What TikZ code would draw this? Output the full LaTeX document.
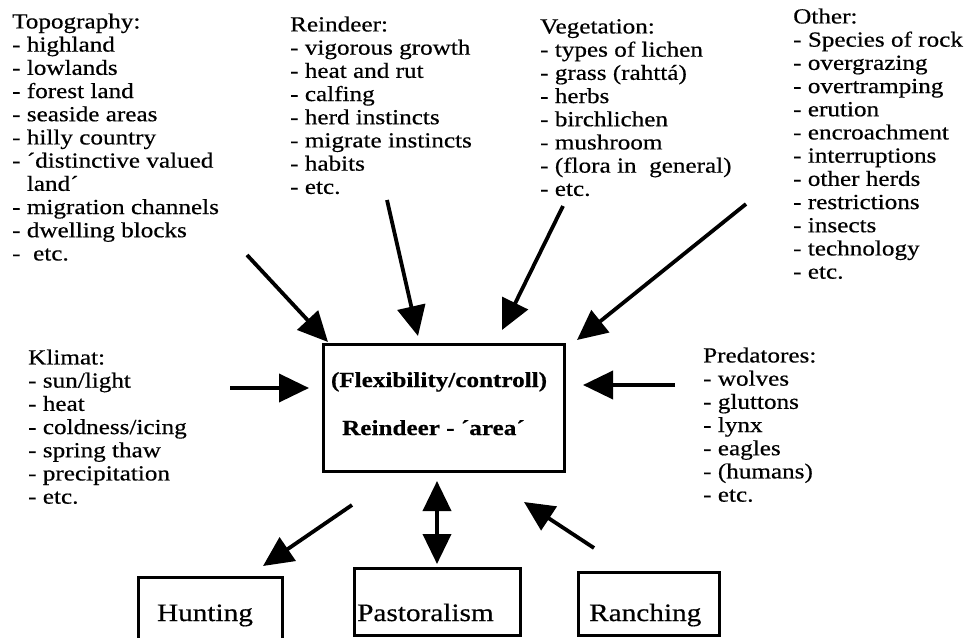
\documentclass[tikz,border=0pt]{standalone}
\usepackage{fontspec}
\setmainfont{Liberation Serif}[FakeStretch=1.17, FakeBold=0.5]
\usetikzlibrary{arrows.meta}
\begin{document}
\begin{tikzpicture}[x=1pt,y=-1pt,
  lst/.style={anchor=north west, inner sep=0pt, align=left, font=\fontsize{21.5}{23.2}\selectfont},
  boxframe/.style={draw, line width=2.6pt, inner sep=0pt, anchor=north west},
  boxtext/.style={inner sep=0pt, font=\fontsize{25}{27}\selectfont},
  centertext/.style={inner sep=0pt, font=\fontsize{21.5}{23.2}\selectfont\bfseries},
  tip/.tip={Triangle[length=30pt,width=28pt]},
  arr/.style={line width=3.8pt, -tip},
  darr/.style={line width=3.8pt, tip-tip},
]
\useasboundingbox (0,0) rectangle (968,637);

% text blocks
\node[lst] (topo) at (12,12) {\strut Topography:\\- highland\\- lowlands\\- forest land\\- seaside areas\\- hilly country\\- ´distinctive valued\\\phantom{- }land´\\- migration channels\\- dwelling blocks\\-\ \ etc.};
\node[lst] (rein) at (290,15) {\strut Reindeer:\\- vigorous growth\\- heat and rut\\- calfing\\- herd instincts\\- migrate instincts\\- habits\\- etc.};
\node[lst] (veg) at (540,17) {\strut Vegetation:\\- types of lichen\\- grass (rahttá)\\- herbs\\- birchlichen\\- mushroom\\- (flora in\ \ general)\\- etc.};
\node[lst] (other) at (793,7) {\strut Other:\\- Species of rock\\- overgrazing\\- overtramping\\- erution\\- encroachment\\- interruptions\\- other herds\\- restrictions\\- insects\\- technology\\- etc.};
\node[lst] (klim) at (28,348) {\strut Klimat:\\- sun/light\\- heat\\- coldness/icing\\- spring thaw\\- precipitation\\- etc.};
\node[lst] (pred) at (703,346) {\strut Predatores:\\- wolves\\- gluttons\\- lynx\\- eagles\\- (humans)\\- etc.};

% central box
\node[boxframe, minimum width=241, minimum height=127] (area) at (322,343) {};
\node[centertext, anchor=base] (flex) at (439,387) {(Flexibility/controll)};
\node[centertext, anchor=base west] (rarea) at (342,435) {Reindeer - ´area´};

% bottom boxes
\node[boxframe, minimum width=144, minimum height=66] (hunt) at (137,576) {};
\node[boxtext, anchor=base] (huntT) at (205,621) {Hunting};
\node[boxframe, minimum width=166, minimum height=67] (past) at (353,567) {};
\node[boxtext, anchor=base west] (pastT) at (357,621) {Pastoralism};
\node[boxframe, minimum width=141, minimum height=63] (ranch) at (577,571) {};
\node[boxtext, anchor=base west] (ranchT) at (589,621) {Ranching};

% arrow end points
\coordinate (a1s) at (247,255); \coordinate (a1e) at (328,342);
\coordinate (a2s) at (387,200); \coordinate (a2e) at (418,336);
\coordinate (a3s) at (563,206); \coordinate (a3e) at (502,330);
\coordinate (a4s) at (746,204); \coordinate (a4e) at (577,340);
\coordinate (a5s) at (230,388); \coordinate (a5e) at (309,388);
\coordinate (a6s) at (675,385); \coordinate (a6e) at (583,385);
\coordinate (a7s) at (352,505); \coordinate (a7e) at (263,566);
\coordinate (a8s) at (437,481); \coordinate (a8e) at (437,564);
\coordinate (a9s) at (594,548); \coordinate (a9e) at (524,502);

\draw[arr] (a1s) -- (a1e);
\draw[arr] (a2s) -- (a2e);
\draw[arr] (a3s) -- (a3e);
\draw[arr] (a4s) -- (a4e);
\draw[arr] (a5s) -- (a5e);
\draw[arr] (a6s) -- (a6e);
\draw[arr] (a7s) -- (a7e);
\draw[darr] (a8s) -- (a8e);
\draw[arr] (a9s) -- (a9e);
\end{tikzpicture}
\end{document}
